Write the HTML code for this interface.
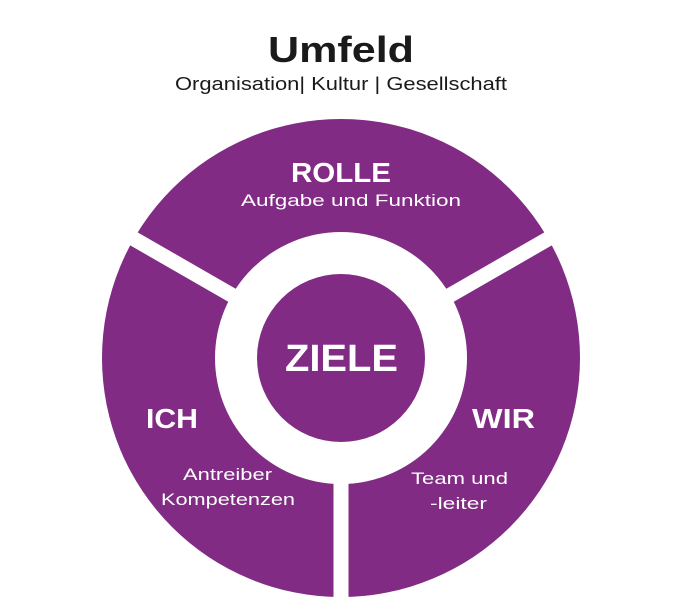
<!DOCTYPE html>
<html><head><style>
html,body{margin:0;padding:0;background:#fff;}
svg{display:block;}
text{font-family:"Liberation Sans",sans-serif;}
</style></head><body>
<svg width="692" height="616" viewBox="0 0 692 616" xmlns="http://www.w3.org/2000/svg">
<text x="268" y="62" font-size="36" font-weight="bold" fill="#1a1a1a" textLength="146" lengthAdjust="spacingAndGlyphs">Umfeld</text>
<text x="175" y="90" font-size="18" fill="#1a1a1a" textLength="332" lengthAdjust="spacingAndGlyphs">Organisation| Kultur | Gesellschaft</text>
<circle cx="341" cy="358" r="239" fill="#812b84"/>
<g stroke="#fff" stroke-width="15">
<line x1="341" y1="358" x2="341" y2="610"/>
<line x1="341" y1="358" x2="122" y2="232"/>
<line x1="341" y1="358" x2="560" y2="232"/>
</g>
<circle cx="341" cy="358" r="126" fill="#fff"/>
<circle cx="341" cy="358" r="84" fill="#812b84"/>
<g fill="#fff" lengthAdjust="spacingAndGlyphs">
<text x="291" y="182" font-size="28" font-weight="bold" textLength="100" lengthAdjust="spacingAndGlyphs">ROLLE</text>
<text x="241" y="206" font-size="17" textLength="220" lengthAdjust="spacingAndGlyphs">Aufgabe und Funktion</text>
<text x="285" y="371" font-size="38" font-weight="bold" textLength="113" lengthAdjust="spacingAndGlyphs">ZIELE</text>
<text x="146" y="428" font-size="28" font-weight="bold" textLength="52" lengthAdjust="spacingAndGlyphs">ICH</text>
<text x="472" y="428" font-size="28" font-weight="bold" textLength="63" lengthAdjust="spacingAndGlyphs">WIR</text>
<text x="183" y="480" font-size="17" textLength="89" lengthAdjust="spacingAndGlyphs">Antreiber</text>
<text x="161" y="505" font-size="17" textLength="134" lengthAdjust="spacingAndGlyphs">Kompetenzen</text>
<text x="411" y="484" font-size="17" textLength="97" lengthAdjust="spacingAndGlyphs">Team und</text>
<text x="430" y="509" font-size="17" textLength="57" lengthAdjust="spacingAndGlyphs">-leiter</text>
</g>
</svg>
</body></html>
